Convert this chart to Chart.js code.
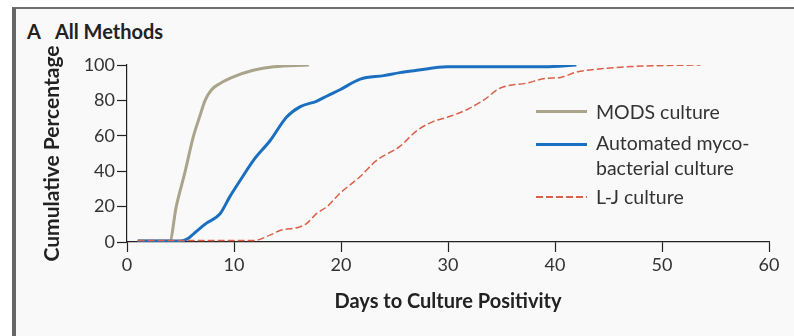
<!DOCTYPE html>
<html>
<head>
<meta charset="utf-8">
<script src="https://cdn.jsdelivr.net/npm/chart.js@4.4.1/dist/chart.umd.min.js"></script>
<style>
  html, body { margin: 0; padding: 0; background: #fff; }
  #frame {
    position: absolute; left: 12px; top: 7px; width: 782px; height: 329px;
    border-top: 2px solid #6e6e6e; border-left: 4px solid #666;
    background: #f9f9f9; box-sizing: border-box;
  }
  #wrap { position: absolute; left: 0; top: 0; width: 794px; height: 336px; }
  .title { position: absolute; left: 27px; top: 19px; font: bold 20px Lato, sans-serif; line-height: 24px; color: #222; }
  .title span { margin-left: 14px; }
  .legend { position: absolute; left: 536px; top: 99px; font: 19.5px Lato, sans-serif; color: #333; }
  .legend .item { position: relative; padding-left: 60px; line-height: 25px; }
  .legend .swatch { position: absolute; left: 0; width: 51px; }
</style>
</head>
<body>
<div id="frame"></div>
<div class="title">A<span>All Methods</span></div>
<div id="wrap"><canvas id="chart" width="794" height="336"></canvas></div>
<div class="legend">
  <div class="item"><div class="swatch" style="top:11px;height:3px;background:#aaa48a"></div>MODS culture</div>
  <div class="item" style="margin-top:6px"><div class="swatch" style="top:13px;height:3px;background:#1a6fc0"></div>Automated myco-<br>bacterial culture</div>
  <div class="item" style="margin-top:4px"><div class="swatch" style="top:12px;height:1.5px;background:repeating-linear-gradient(90deg,#dd5f48 0 7px,transparent 7px 10px)"></div>L-J culture</div>
</div>
<script>
// days / cumulative percentage
const modsDays = [1, 4, 4.6, 5.4, 6.2, 6.8, 7.3, 7.9, 8.7, 10, 11.8, 13.7, 17]
const modsPct  = [0.5, 0.5, 20, 39, 59.5, 71, 80, 86, 89.6, 93.4, 97, 99, 100]

const autoDays = [1, 5, 5.7, 6.2, 7.4, 8.7, 9.6, 10.6, 11.8, 13.4, 14.9, 16.2, 17.7, 18.7, 19.9, 21.8, 24, 25.5, 27.1, 29.9, 35, 39, 42]
const autoPct  = [0.5, 0.5, 2, 4.5, 10.5, 16, 25.5, 35, 46, 57.5, 70.5, 76.5, 79.5, 82.5, 86, 92, 94, 95.7, 97, 99, 99, 99, 100]

const ljDays = [1, 11.8, 13.4, 14.3, 16.2, 16.8, 17.7, 18.7, 19.9, 21.8, 23.3, 25.5, 27.1, 28.6, 30.2, 31.7, 33.3, 34.9, 37.3, 39.2, 40.5, 42, 44.5, 48.2, 53.6]
const ljPct  = [0.8, 0.8, 4, 6.5, 8.6, 10.5, 16, 20, 27.5, 37, 46, 54, 63, 68, 71, 74.6, 80, 87, 89.7, 92.5, 93, 96, 98, 99.4, 100]

const xTicks = [0, 10, 20, 30, 40, 50, 60]
const yTicks = [0, 20, 40, 60, 80, 100]

const toPoints = (days, pct) => days.map((d, i) => ({x: d, y: pct[i]}))

const axisColor = '#222'
const tickFont = {family: 'Lato', size: 18}
const titleFont = {family: 'Lato', size: 20, weight: 'bold'}

new Chart(document.getElementById('chart'), {
    type: 'line',
    data: {
        datasets: [
            {
                label: 'L-J culture',
                data: toPoints(ljDays, ljPct),
                borderColor: '#dd5f48',
                borderWidth: 1.5,
                borderDash: [7, 3],
            },
            {
                label: 'Automated mycobacterial culture',
                data: toPoints(autoDays, autoPct),
                borderColor: '#1a6fc0',
                borderWidth: 3,
            },
            {
                label: 'MODS culture',
                data: toPoints(modsDays, modsPct),
                borderColor: '#aaa48a',
                borderWidth: 3,
            },
        ]
    },
    options: {
        responsive: false,
        animation: false,
        layout: {padding: {top: 65, right: 25, left: 0, bottom: 0}},
        elements: {
            point: {radius: 0},
            line: {cubicInterpolationMode: 'monotone', fill: false}
        },
        plugins: {legend: {display: false}, tooltip: {enabled: false}},
        scales: {
            x: {
                type: 'linear',
                min: 0, max: 60,
                afterBuildTicks: s => { s.ticks = xTicks.map(v => ({value: v})) },
                afterFit: s => { s.height = 94 },
                grid: {drawOnChartArea: false, tickLength: 10, color: axisColor, tickWidth: 1.2},
                border: {color: axisColor, width: 1.2},
                ticks: {color: '#333', font: tickFont, padding: 2, maxRotation: 0},
                title: {display: true, text: 'Days to Culture Positivity', color: '#222', font: titleFont, padding: {top: 0, bottom: 22}}
            },
            y: {
                min: 0, max: 100,
                afterBuildTicks: s => { s.ticks = yTicks.map(v => ({value: v})) },
                afterFit: s => { s.width = 127 },
                grid: {drawOnChartArea: false, tickLength: 10, color: axisColor, tickWidth: 1.2},
                border: {color: axisColor, width: 1.2},
                ticks: {color: '#333', font: tickFont, padding: 2},
                title: {display: true, text: 'Cumulative Percentage', color: '#222', font: {family: 'Lato', size: 21, weight: 'bold'}, padding: {top: 40, bottom: 0}}
            }
        }
    }
})
</script>
</body>
</html>
